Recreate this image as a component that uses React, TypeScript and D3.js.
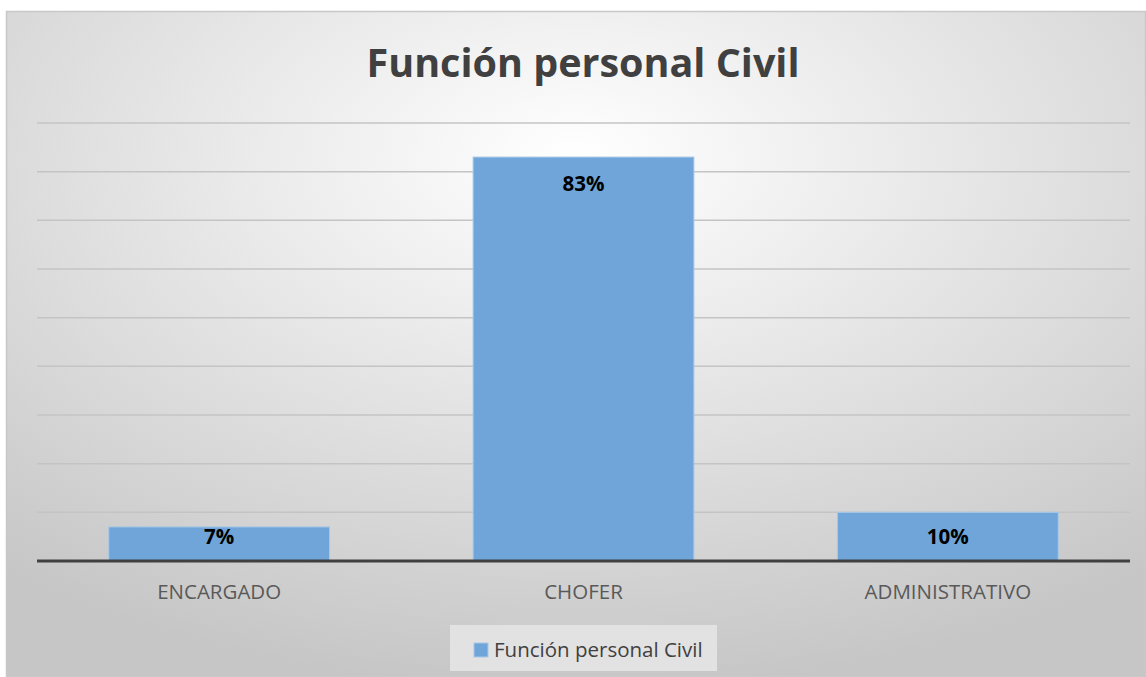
import React from "react";
import * as d3 from "d3";

const categories = ["ENCARGADO", "CHOFER", "ADMINISTRATIVO"];
const values = [0.07, 0.83, 0.10];
const valueLabels = ["7%", "83%", "10%"];
const yTicks = [0, 0.1, 0.2, 0.3, 0.4, 0.5, 0.6, 0.7, 0.8, 0.9];
const title = "Función personal Civil";
const seriesName = "Función personal Civil";

const W = 1146;
const H = 677;
const FONT = "'Open Sans', 'Noto Sans', sans-serif";

export default function App() {
  const left = 37, right = 1130, top = 123, bottom = 561;
  const x = d3.scaleBand<string>().domain(categories).range([left, right]).paddingInner(0.394).paddingOuter(0.197);
  const y = d3.scaleLinear().domain([0, 0.9]).range([bottom, top]);
  return (
    <svg width={W} height={H} style={{ position: "absolute", left: 0, top: 0, display: "block" }}>
      <defs>
        <radialGradient id="bg" cx="50%" cy="22%" r="80%" fx="50%" fy="22%">
          <stop offset="0%" stopColor="#ffffff" />
          <stop offset="100%" stopColor="#c6c6c6" />
        </radialGradient>
      </defs>
      <rect x={6.5} y={11.5} width={1139} height={665} fill="url(#bg)" stroke="#c8c8c8" strokeWidth={1.5} />
      <text x={583} y={77} textAnchor="middle" fontFamily={FONT} fontWeight="bold" fontSize={39.5} fill="#404040">{title}</text>
      {yTicks.filter(t => t > 0).map(t => (
        <line key={t} x1={left} x2={right} y1={y(t)} y2={y(t)} stroke="#c4c4c4" strokeWidth={1.5} />
      ))}
      {categories.map((c, i) => {
        const bx = x(c)!;
        const bt = y(values[i]);
        const ly = Math.min(bt + 27, bottom - 24);
        return (
          <g key={c}>
            <rect x={bx} y={bt} width={x.bandwidth()} height={bottom - bt} fill="#6fa5d9" stroke="#a8c8e8" strokeWidth={1} />
            <text x={bx + x.bandwidth() / 2} y={ly} dy="0.35em" textAnchor="middle" fontFamily={FONT} fontWeight="bold" fontSize={20.5} fill="#000">{valueLabels[i]}</text>
            <text x={bx + x.bandwidth() / 2} y={592} dy="0.35em" textAnchor="middle" fontFamily={FONT} fontSize={20.5} fill="#595959">{c}</text>
          </g>
        );
      })}
      <line x1={left} x2={right} y1={bottom} y2={bottom} stroke="#404040" strokeWidth={3} />
      <rect x={450} y={625} width={267} height={46} fill="#e2e2e2" />
      <rect x={474} y={643} width={14} height={14} fill="#6fa5d9" stroke="#a8c8e8" strokeWidth={1} />
      <text x={494} y={650} dy="0.35em" fontFamily={FONT} fontSize={20.5} fill="#404040">{seriesName}</text>
    </svg>
  );
}
